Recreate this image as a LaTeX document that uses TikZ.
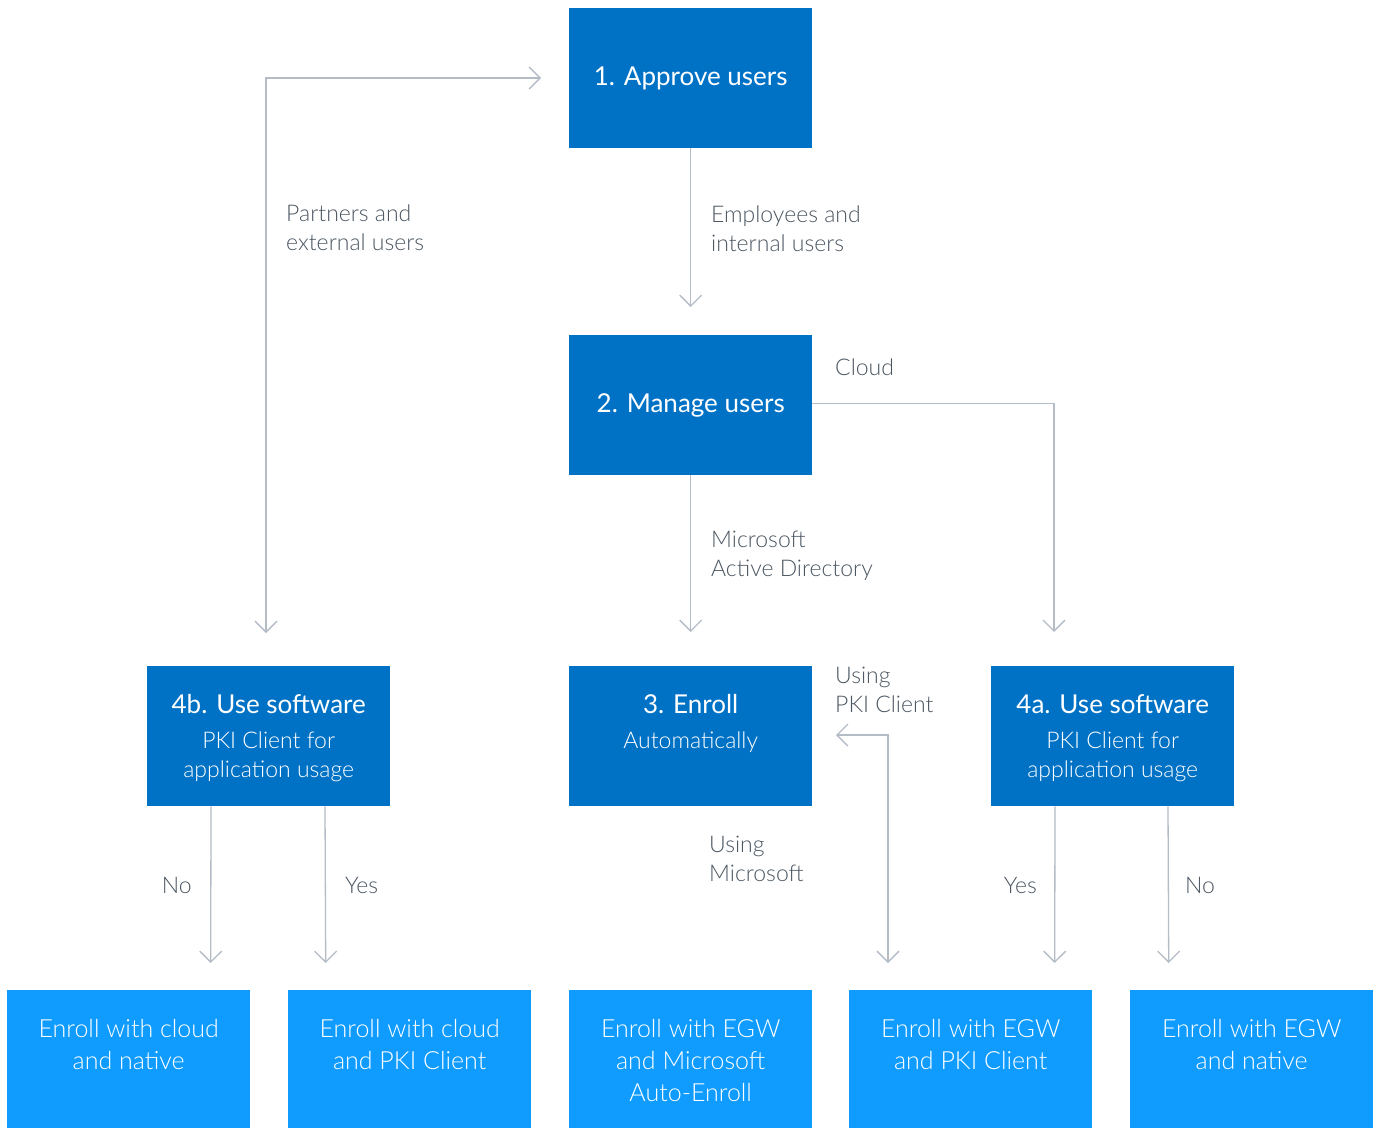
\documentclass[tikz,border=0pt]{standalone}
\usepackage{fontspec}
\setmainfont{Lato}
\newfontfamily\lightfont{Lato Light}
\usetikzlibrary{arrows.meta,positioning,calc}
\definecolor{stepblue}{HTML}{0072C6}
\definecolor{leafblue}{HTML}{109CFF}
\definecolor{linegray}{HTML}{B4BCC6}
\definecolor{labelgray}{HTML}{4B5661}
\begin{document}
\begin{tikzpicture}
[x=1pt,y=-1pt,
stepbox/.style={rectangle,fill=stepblue,text=white,minimum width=243pt,minimum height=140pt,inner sep=0pt,anchor=north west,font=\fontsize{26}{32}\selectfont},
leaf/.style={stepbox,fill=leafblue,minimum height=138pt},
title/.style={text=white,anchor=north,inner sep=0pt,font=\fontsize{26}{32}\selectfont},
sub/.style={text=white,anchor=north,inner sep=0pt,align=center,font=\lightfont\fontsize{23}{29}\selectfont},
leaftext/.style={text=white,anchor=north,inner sep=0pt,align=center,font=\lightfont\fontsize{25}{32}\selectfont},
link/.style={draw=linegray,line width=1.3pt,-{Straight Barb[length=11pt,width=22pt]}},
twoway/.style={link,{Straight Barb[length=11pt,width=22pt]}-{Straight Barb[length=11pt,width=22pt]}},
tag/.style={text=labelgray,align=left,anchor=north west,inner sep=0pt,font=\lightfont\fontsize{23}{29}\selectfont}]
\useasboundingbox (0,0) rectangle (1376,1128);
% step boxes
\node[stepbox] (approve) at (569,8) {\raisebox{-2pt}{1. Approve users}};
\node[stepbox] (manage) at (569,335) {\raisebox{-2pt}{2. Manage users}};
\node[stepbox] (enroll) at (569,666) {};
\node[stepbox] (soft4b) at (147,666) {};
\node[stepbox] (soft4a) at (991,666) {};
\node[title] at ($(enroll.north)+(0,28)$) {3. Enroll};
\node[sub] at ($(enroll.north)+(0,66)$) {Automatically};
\node[title] at ($(soft4b.north)+(0,28)$) {4b. Use software};
\node[sub] at ($(soft4b.north)+(0,66)$) {PKI Client for\\application usage};
\node[title] at ($(soft4a.north)+(0,28)$) {4a. Use software};
\node[sub] at ($(soft4a.north)+(0,66)$) {PKI Client for\\application usage};
% enrollment options
\node[leaf] (cloudnative) at (7,990) {};
\node[leaf] (cloudpki) at (288,990) {};
\node[leaf] (egwauto) at (569,990) {};
\node[leaf] (egwpki) at (849,990) {};
\node[leaf] (egwnative) at (1130,990) {};
\node[leaftext] at ($(cloudnative.north)+(0,29)$) {Enroll with cloud\\and native};
\node[leaftext] at ($(cloudpki.north)+(0,29)$) {Enroll with cloud\\and PKI Client};
\node[leaftext] at ($(egwauto.north)+(0,29)$) {Enroll with EGW\\and Microsoft\\Auto-Enroll};
\node[leaftext] at ($(egwpki.north)+(0,29)$) {Enroll with EGW\\and PKI Client};
\node[leaftext] at ($(egwnative.north)+(0,29)$) {Enroll with EGW\\and native};
% arrow ends
\coordinate (into1) at (541,78);
\coordinate (into4b) at (266,633);
\coordinate (into4a) at (1054,632);
\coordinate (intopki) at (836,735);
% connectors
\draw[link] (approve.south) -- ($(manage.north)+(0,-28)$);
\draw[link] (manage.south) -- ($(enroll.north)+(0,-34)$);
\draw[link] ([yshift=1.5pt]manage.east) -| (into4a);
\draw[twoway] (into4b) |- (into1);
\draw[link] ($(soft4b.south west)+(64,0)$) -- ($(cloudnative.north)+(82,-27)$);
\draw[link] ($(soft4b.south west)+(178,0)$) -- ($(cloudpki.north)+(-84,-27)$);
\draw[link] ($(soft4a.south west)+(64,0)$) -- ($(egwpki.north)+(84,-27)$);
\draw[link] ($(soft4a.south west)+(177,0)$) -- ($(egwnative.north)+(-83,-27)$);
\draw[twoway] ($(egwpki.north west)+(39,-27)$) |- (intopki);
% labels
\node[tag] at (286,205) {Partners and\\external users};
\node[tag] at (711,206) {Employees and\\internal users};
\node[tag] at (835,359) {Cloud};
\node[tag] at (711,531) {Microsoft\\Active Directory};
\node[tag] at (835,667) {Using\\PKI Client};
\node[tag] at (709,836) {Using\\Microsoft};
\node[tag,anchor=north east] at (192,877) {No};
\node[tag] at (345,877) {Yes};
\node[tag,anchor=north east] at (1037,877) {Yes};
\node[tag] at (1185,877) {No};
\end{tikzpicture}
\end{document}
